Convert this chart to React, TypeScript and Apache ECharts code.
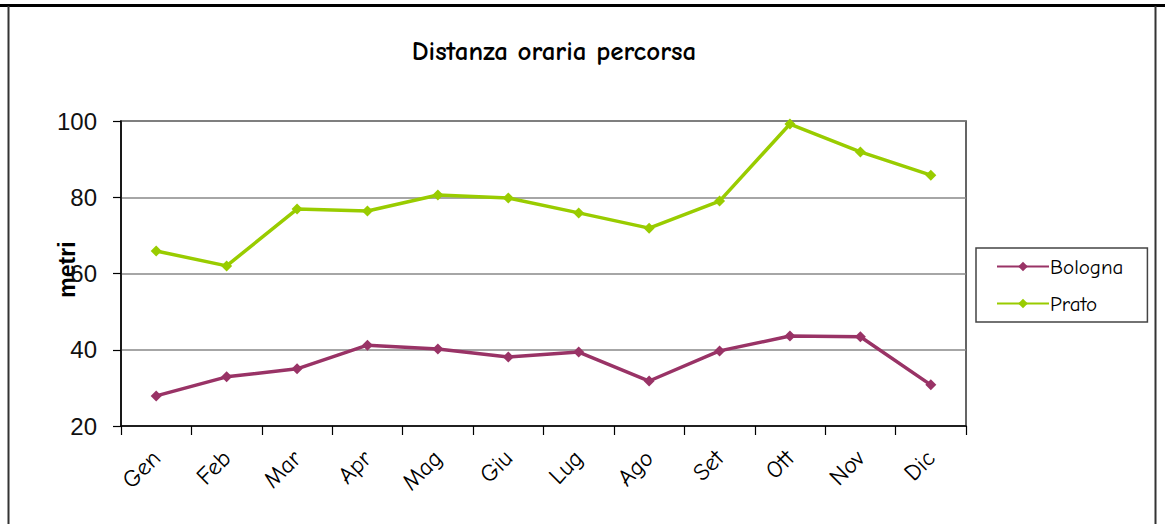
import React, { useEffect, useRef } from "react";
import * as echarts from "echarts";

const months = ["Gen", "Feb", "Mar", "Apr", "Mag", "Giu", "Lug", "Ago", "Set", "Ott", "Nov", "Dic"];
const bologna = [27.9, 32.9, 35, 41.2, 40.2, 38.1, 39.4, 31.8, 39.7, 43.6, 43.4, 30.8];
const prato = [65.9, 62, 76.9, 76.4, 80.6, 79.8, 75.9, 71.9, 79, 99.2, 91.9, 85.8];
const yTicks = { min: 20, max: 100, interval: 20 };

const comic = "'Comic Sans MS', 'Comic Neue', 'DejaVu Sans', sans-serif";

export default function App() {
  const ref = useRef<HTMLDivElement>(null);
  useEffect(() => {
    if (!ref.current) return;
    const chart = echarts.init(ref.current, undefined, { renderer: "svg" });
    chart.setOption({
      animation: false,
      backgroundColor: "#ffffff",
      title: {
        text: "Distanza oraria percorsa",
        left: 549,
        top: 33,
        textAlign: "center",
        textStyle: { fontFamily: comic, fontSize: 27, fontWeight: "bold", color: "#000" },
      },
      graphic: [
        { type: "rect", shape: { x: 0, y: 4, width: 1165, height: 3 }, style: { fill: "#000" } },
        { type: "line", shape: { x1: 8.5, y1: 6, x2: 8.5, y2: 524 }, style: { stroke: "#333", lineWidth: 2 } },
        { type: "line", shape: { x1: 1155.5, y1: 6, x2: 1155.5, y2: 524 }, style: { stroke: "#333", lineWidth: 2 } },
      ],
      legend: {
        orient: "vertical",
        left: 976,
        top: 248,
        padding: [8, 24, 8, 20],
        itemGap: 16,
        itemWidth: 52,
        itemHeight: 12,
        borderColor: "#444",
        borderWidth: 1.5,
        textStyle: { fontFamily: comic, fontSize: 21, color: "#000", padding: [0, 0, 0, -4] },
        data: ["Bologna", "Prato"],
      },
      grid: {
        left: 121,
        top: 121,
        width: 845,
        height: 305,
        show: true,
        borderColor: "#333",
        borderWidth: 1.5,
        containLabel: false,
      },
      xAxis: {
        type: "category",
        data: months,
        boundaryGap: true,
        axisLine: { lineStyle: { color: "#000", width: 1.5 } },
        axisTick: { show: true, length: 9, alignWithLabel: false, lineStyle: { color: "#000", width: 1.2 } },
        axisLabel: { rotate: 45, margin: 28, fontFamily: comic, fontSize: 24, color: "#000" },
        splitLine: { show: false },
      },
      yAxis: {
        type: "value",
        min: yTicks.min,
        max: yTicks.max,
        interval: yTicks.interval,
        name: "metri",
        nameLocation: "middle",
        nameRotate: 90,
        nameGap: 43,
        nameMoveOverlap: false,
        nameTextStyle: { fontFamily: "'Liberation Sans', Arial, sans-serif", fontSize: 23, fontWeight: "bold", color: "#000", padding: [0, 0, 0, 8] },
        axisLine: { show: true, lineStyle: { color: "#000", width: 1.5 } },
        axisTick: { show: true, length: 8, lineStyle: { color: "#000", width: 1.2 } },
        axisLabel: { margin: 24, fontFamily: "'Liberation Sans', Arial, sans-serif", fontSize: 24, color: "#111" },
        splitLine: { show: true, lineStyle: { color: "#888", width: 1.5 } },
      },
      series: [
        {
          name: "Bologna",
          type: "line",
          data: bologna,
          symbol: "diamond",
          symbolSize: 11,
          color: "#993366",
          lineStyle: { width: 3.5, color: "#993366" },
          itemStyle: { color: "#993366" },
        },
        {
          name: "Prato",
          type: "line",
          data: prato,
          symbol: "diamond",
          symbolSize: 11,
          color: "#99CC00",
          lineStyle: { width: 3.5, color: "#99CC00" },
          itemStyle: { color: "#99CC00" },
        },
      ],
    });
    return () => chart.dispose();
  }, []);
  return <div ref={ref} style={{ position: "fixed", left: 0, top: 0, width: 1165, height: 524 }} />;
}
